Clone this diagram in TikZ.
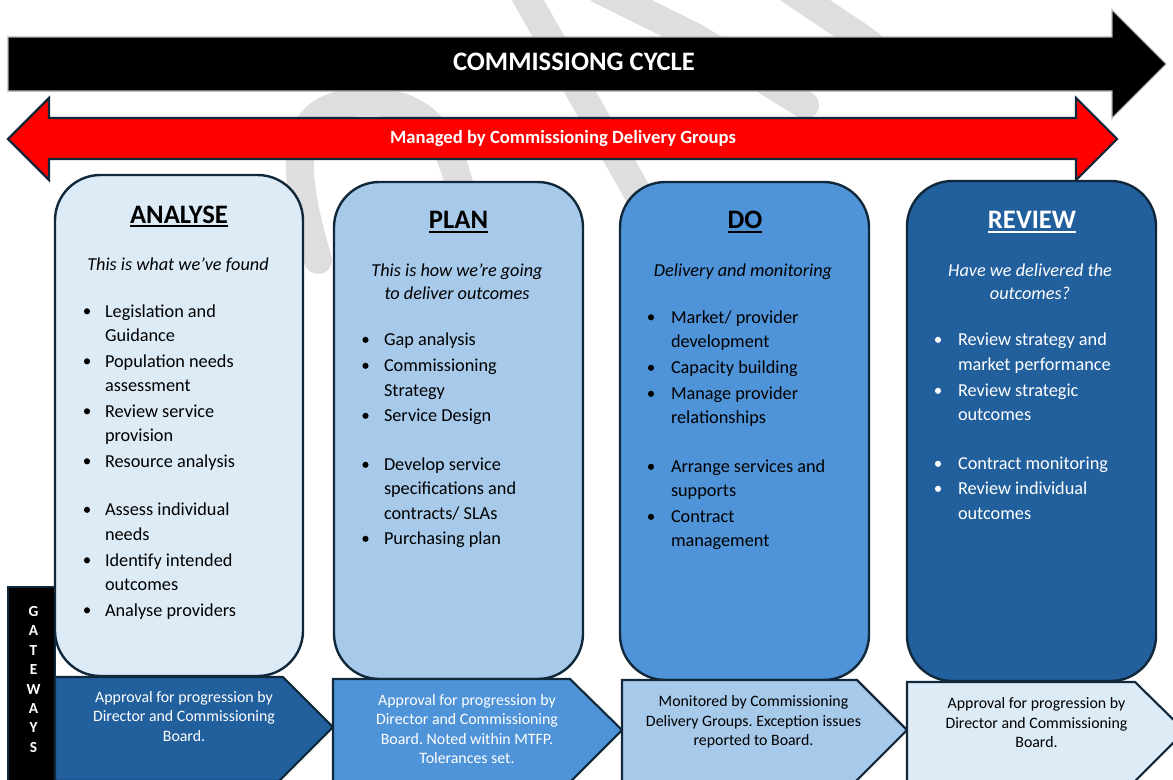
\documentclass[tikz,border=0pt]{standalone}
\usepackage{fontspec}
\setmainfont{Carlito}
\definecolor{wmgray}{RGB}{222,222,222}
\definecolor{navy}{RGB}{16,40,58}
\definecolor{lightfill}{RGB}{221,235,247}
\definecolor{midfill}{RGB}{167,201,234}
\definecolor{dofill}{RGB}{79,148,217}
\definecolor{deepfill}{RGB}{33,95,157}
\frenchspacing
\begin{document}
\begin{tikzpicture}[x=0.75pt,y=-0.75pt,
  every node/.style={inner sep=0pt,outer sep=0pt},
  band/.style={draw=wmgray,line width=21pt,line cap=round},
  panel/.style={draw=navy,line width=1.8pt,rounded corners=34pt},
  gate/.style={draw=navy,line width=1.6pt,line join=miter},
  ttl/.style={font=\fontsize{20}{24}\selectfont\bfseries,anchor=base},
  subt/.style={font=\fontsize{13.7}{16}\selectfont\itshape,anchor=base},
  body/.style={font=\fontsize{13.7}{16}\selectfont,anchor=base west},
  gtext/.style={font=\fontsize{11.9}{14}\selectfont,anchor=base},
  gl/.style={font=\fontsize{11.5}{14}\selectfont\bfseries,text=white,anchor=base}]
\useasboundingbox (0,0) rectangle (1173,779);
\clip (0,0) rectangle (1173,779);
\fill[white] (0,0) rectangle (1173,779);

% faint watermark bands
\draw[band] (318,260) .. controls (282,140) and (300,102) .. (368,102)
            .. controls (436,102) and (462,150) .. (470,260);
\draw[band] (522,-10) -- (690,285);
\draw[band] (600,-10) -- (695,37) -- (805,105);
\draw[band] (790,-10) -- (860,37) -- (905,70);

% main cycle arrow
\draw[draw=black!30,line width=0.8pt,fill=black]
  (8,37) -- (1112,37) -- (1112,10) -- (1166,64) -- (1112,118) -- (1112,91) -- (8,91) -- cycle;
\node[font=\fontsize{20}{24}\selectfont\bfseries,text=white,anchor=base] (cycle) at (574,70.5) {COMMISSIONG CYCLE};

% double-headed management arrow
\draw[draw=navy,line width=1.6pt,fill=red]
  (8,139) -- (49,98) -- (49,118) -- (1076,118) -- (1076,98) -- (1117,139)
  -- (1076,180) -- (1076,159) -- (49,159) -- (49,180) -- cycle;
\node[font=\fontsize{14}{17}\selectfont\bfseries,text=white,anchor=base] (managed) at (563,143.5) {Managed by Commissioning Delivery Groups};

% four stage panels
\draw[panel,fill=lightfill] (55,175) rectangle (303,676);
\draw[panel,fill=midfill]   (334,182) rectangle (583,679);
\draw[panel,fill=dofill]    (620,182) rectangle (869,680);
\draw[panel,fill=deepfill]  (907,181) rectangle (1156,681);

% titles
\node[ttl] (tA) at (179,223) {ANALYSE};
\node[ttl] (tP) at (458.5,228.5) {PLAN};
\node[ttl] (tD) at (745,228.5) {DO};
\node[ttl,text=white] (tR) at (1032,228.5) {REVIEW};
\foreach \t/\c in {tA/black,tP/black,tD/black,tR/white}
  \draw[\c,line width=1.5pt] ([yshift=-2.6pt]\t.base west) -- ([yshift=-2.6pt]\t.base east);

% subtitles
\node[subt] (sA) at (178,270) {This is what we've found};
\node[subt] (sP1) at (457,276.5) {This is how we're going};
\node[subt] (sP2) at (457,299.5) {to deliver outcomes};
\node[subt] (sD) at (743,276.5) {Delivery and monitoring};
\node[subt,text=white] (sR1) at (1030,276.5) {Have we delivered the};
\node[subt,text=white] (sR2) at (1030,299.5) {outcomes?};

% ANALYSE list
\foreach \y/\t [count=\i] in {317/Legislation and,341.5/Guidance,367/Population needs,391.5/assessment,
  417/Review service,441.5/provision,467/Resource analysis,515.5/Assess individual,540/needs,
  566/Identify intended,590.5/outcomes,616/Analyse providers}
  \node[body,name=la\i] at (105,\y) {\t};
\foreach \y in {317,367,417,467,515.5,566,616}
  \fill (87,{\y-5.7}) circle (2.3pt);

% PLAN list
\foreach \y/\t [count=\i] in {345.5/Gap analysis,371.5/Commissioning,396.5/Strategy,421.5/Service Design,
  470.5/Develop service,494.5/specifications and,519.5/{contracts/ SLAs},544.5/Purchasing plan}
  \node[body,name=lp\i] at (384,\y) {\t};
\foreach \y in {345.5,371.5,421.5,470.5,544.5}
  \fill (365.5,{\y-5.7}) circle (2.3pt);

% DO list
\foreach \y/\t [count=\i] in {323/{Market/ provider},347/development,373.5/Capacity building,
  399.5/Manage provider,423.5/relationships,472.5/Arrange services and,496.5/supports,
  522.5/Contract,546.5/management}
  \node[body,name=ld\i] at (671,\y) {\t};
\foreach \y in {323,373.5,399.5,472.5,522.5}
  \fill (651,{\y-5.7}) circle (2.3pt);

% REVIEW list
\foreach \y/\t [count=\i] in {345.5/Review strategy and,370.5/market performance,396.5/Review strategic,
  420.5/outcomes,469.5/Contract monitoring,494.5/Review individual,519.5/outcomes}
  \node[body,text=white,name=lr\i] at (958,\y) {\t};
\foreach \y in {345.5,396.5,469.5,494.5}
  \fill[white] (938,{\y-5.7}) circle (2.3pt);

% gateway label
\draw[navy,line width=1.2pt,fill=black] (8,587) rectangle (55,782);
\foreach \y/\l [count=\i] in {616/G,635/A,655/T,674/E,694/W,713/A,732/Y,752/S}
  \node[gl,name=g\i] at (33.5,\y) {\l};

% gateway arrows
\draw[gate,fill=deepfill] (55,677) -- (283,677) -- (333,727) -- (279,781) -- (55,781) -- cycle;
\draw[gate,fill=dofill] (333,679) -- (570,679) -- (622,730) -- (568,784) -- (333,784) -- cycle;
\draw[gate,fill=midfill] (622,680) -- (857,680) -- (907,730) -- (855,782) -- (622,782) -- cycle;
\draw[gate,fill=lightfill] (907,682) -- (1135,682) -- (1185,731) -- (1133,783) -- (907,783) -- cycle;

\foreach \y/\t [count=\i] in {702.7/Approval for progression by,721.9/Director and Commissioning,741.5/Board.}
  \node[gtext,text=white,name=ga\i] at (184,\y) {\t};
\foreach \y/\t [count=\i] in {705/Approval for progression by,724.5/Director and Commissioning,
  744/Board. Noted within MTFP.,763.5/Tolerances set.}
  \node[gtext,text=white,name=gb\i] at (467,\y) {\t};
\foreach \y/\t [count=\i] in {706.7/Monitored by Commissioning,726/Delivery Groups. Exception issues,745.7/reported to Board.}
  \node[gtext,name=gc\i] at (753.5,\y) {\t};
\foreach \y/\t [count=\i] in {708.3/Approval for progression by,728/Director and Commissioning,747.5/Board.}
  \node[gtext,name=gd\i] at (1036.5,\y) {\t};
\end{tikzpicture}
\end{document}
